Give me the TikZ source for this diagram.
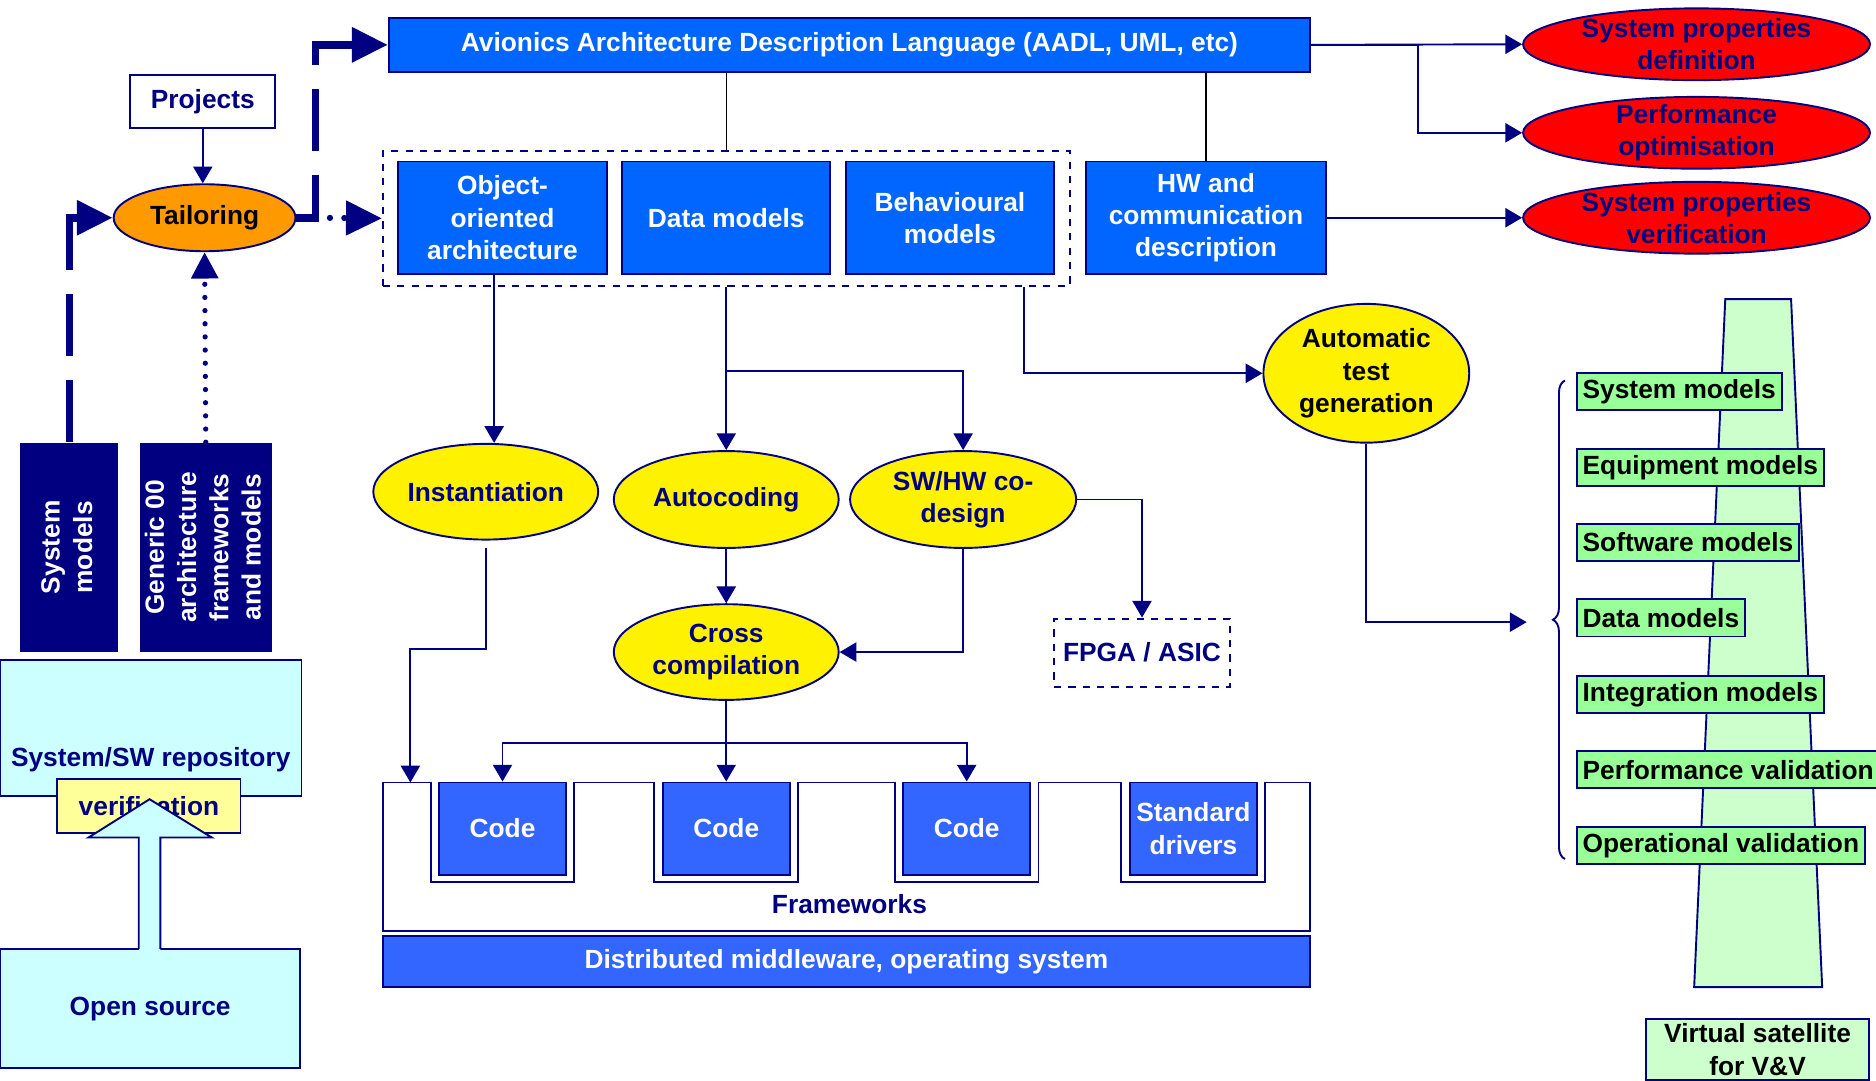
\documentclass[tikz,border=0pt]{standalone}
\usepackage{fontspec}
\setmainfont{Liberation Sans}
\usetikzlibrary{arrows, arrows.meta, positioning, shapes.geometric, decorations.pathreplacing}

\definecolor{navy}{HTML}{000080}
\definecolor{topblue}{HTML}{0066FF}
\definecolor{codeblue}{HTML}{3366FF}
\definecolor{tailorange}{HTML}{FF9900}
\definecolor{lightcyan}{HTML}{CCFFFF}
\definecolor{paleyellow}{HTML}{FFFF99}
\definecolor{midgreen}{HTML}{99FF99}
\definecolor{palegreen}{HTML}{CCFFCC}

\begin{document}
\begin{tikzpicture}[x=0.5pt, y=-0.5pt,
        every node/.style={font=\fontsize{11}{13.5}\selectfont\bfseries, align=center},
        topbox/.style={rectangle, draw=navy, fill=topblue, text=white, inner sep=0pt, line width=0.8pt},
        codebox/.style={rectangle, draw=navy, fill=codeblue, text=white, inner sep=0pt, line width=0.8pt, minimum width=53pt, minimum height=38.5pt},
        darkbox/.style={rectangle, fill=navy, text=white, inner sep=0pt},
        cyanbox/.style={rectangle, draw=navy, fill=lightcyan, text=navy, inner sep=0pt, line width=0.8pt},
        yelloval/.style={ellipse, draw=navy, fill=yellow, text=navy, inner sep=0pt, line width=0.8pt},
        redoval/.style={ellipse, draw=navy, fill=red, text=navy, inner xsep=0pt, inner ysep=-4pt, line width=0.8pt, minimum width=145pt, minimum height=30pt},
        greenbox/.style={rectangle, draw=navy, fill=midgreen, anchor=west, minimum height=15.5pt, inner xsep=2.5pt, inner ysep=0pt, line width=0.8pt},
        flow/.style={draw=navy, line width=0.8pt, -{Triangle[length=7pt, width=8pt]}},
        thinline/.style={draw=black, line width=0.6pt},
        thickdash/.style={draw=navy, line width=3.2pt, dash pattern=on 26pt off 10pt, -{Triangle[length=15pt, width=14pt]}},
        bigdots/.style={draw=navy, line width=2.6pt, line cap=round, dash pattern=on 0pt off 6pt, -{Triangle[length=15pt, width=14pt]}},
        smalldots/.style={draw=navy, line width=2.2pt, line cap=round, dash pattern=on 0pt off 5.5pt, -{Triangle[length=11pt, width=11pt]}}
    ]
    \useasboundingbox (0,0) rectangle (1568,903);

    % top language and tailoring
    \node[topbox, minimum width=385pt, minimum height=22.5pt] (aadl) at (710,37.5) {Avionics Architecture Description Language (AADL, UML, etc)};
    \node[rectangle, draw=navy, fill=white, text=navy, line width=0.8pt, minimum width=60.5pt, minimum height=22pt] (projects) at (169.5,85) {Projects};
    \node[ellipse, draw=navy, fill=tailorange, line width=0.8pt, inner sep=0pt, minimum width=76pt, minimum height=28pt] (tailor) at (171,182) {Tailoring};

    % left column
    \node[darkbox, minimum width=41pt, minimum height=87.5pt] (sysmod) at (58,457.5) {\rotatebox{90}{\begin{tabular}{@{}c@{}}System\\models\end{tabular}}};
    \node[darkbox, minimum width=55pt, minimum height=87.5pt] (generic) at (172,457.5) {\rotatebox{90}{\begin{tabular}{@{}c@{}}Generic 00\\architecture\\frameworks\\and models\end{tabular}}};
    \node[cyanbox, minimum width=126pt, minimum height=56.5pt] (repo) at (126,608.5) {};
    \node[text=navy] (repotext) at (126,635) {System/SW repository};
    \node[rectangle, draw=navy, fill=paleyellow, text=navy, line width=0.8pt, inner sep=0pt, minimum width=76.5pt, minimum height=22.5pt] (verif) at (124.5,673.5) {verification};
    \node[cyanbox, minimum width=125.5pt, minimum height=50pt] (opensrc) at (125.5,843) {Open source};
    \fill[lightcyan] (116,796) -- (116,700) -- (74,700) -- (125,668) -- (177,700) -- (134,700) -- (134,796) -- cycle;
    \draw[navy, line width=0.8pt] (116,793) -- (116,700) -- (74,700) -- (125,668) -- (177,700) -- (134,700) -- (134,793);

    % model boxes
    \node[rectangle, draw=navy, dashed, line width=0.8pt, minimum width=287pt, minimum height=56.5pt] (group) at (607,182.5) {};
    \node[topbox, minimum width=87pt, minimum height=47pt] (oo) at (420,182) {Object-\\oriented\\architecture};
    \node[topbox, minimum width=87pt, minimum height=47pt] (datam) at (607,182) {Data models};
    \node[topbox, minimum width=87pt, minimum height=47pt] (behav) at (794,182) {Behavioural\\models};
    \node[topbox, minimum width=100pt, minimum height=47pt] (hwcomm) at (1008,182) {HW and\\communication\\description};

    % properties
    \node[redoval] (spdef) at (1418,37) {System properties\\definition};
    \node[redoval] (perf) at (1418,111) {Performance\\optimisation};
    \node[redoval] (spver) at (1418,182) {System properties\\verification};

    % processes
    \node[yelloval, minimum width=94pt, minimum height=40pt] (inst) at (406,411) {Instantiation};
    \node[yelloval, minimum width=94pt, minimum height=40.5pt] (autocod) at (607,417.5) {Autocoding};
    \node[yelloval, minimum width=94.5pt, minimum height=40.5pt] (codesign) at (805,417.5) {SW/HW co-\\design};
    \node[yelloval, minimum width=94pt, minimum height=40pt] (cross) at (607,545) {Cross\\compilation};
    \node[yelloval, text=black, minimum width=86pt, minimum height=58pt] (autotest) at (1142,312) {Automatic\\test\\generation};
    \node[rectangle, draw=navy, dashed, text=navy, line width=0.8pt, minimum width=73.5pt, minimum height=28.5pt] (fpga) at (954.5,545.5) {FPGA / ASIC};

    % frameworks and code
    \draw[navy, line width=0.8pt, fill=white] (320,654) -- (360,654) -- (360,737) -- (480,737) -- (480,654)
        -- (547,654) -- (547,737) -- (667,737) -- (667,654) -- (748,654) -- (748,737) -- (868,737) -- (868,654)
        -- (937,654) -- (937,737) -- (1057,737) -- (1057,654) -- (1095,654) -- (1095,778) -- (320,778) -- cycle;
    \node[text=navy] (fwtext) at (710,756) {Frameworks};
    \node[codebox] (code1) at (420,692.5) {Code};
    \node[codebox] (code2) at (607,692.5) {Code};
    \node[codebox] (code3) at (808,692.5) {Code};
    \node[codebox] (stddrv) at (997.5,692.5) {Standard\\drivers};
    \node[codebox, minimum width=387.5pt, minimum height=21.5pt] (mware) at (707.5,803.5) {Distributed middleware, operating system};

    % virtual satellite
    \draw[navy, line width=0.8pt, fill=palegreen] (1442,250) -- (1497,250) -- (1523,825) -- (1416,825) -- cycle;
    \draw[navy, line width=0.8pt, decorate, decoration={brace, amplitude=5pt}] (1308,718) -- (1308,318);
    \node[greenbox] (vsys) at (1317,327.5) {System models};
    \node[greenbox] (vequip) at (1317,390.5) {Equipment models};
    \node[greenbox] (vsoft) at (1317,453.5) {Software models};
    \node[greenbox] (vdata) at (1317,516.5) {Data models};
    \node[greenbox] (vinteg) at (1317,580.5) {Integration models};
    \node[greenbox] (vperf) at (1317,643.5) {Performance validation};
    \node[greenbox] (voper) at (1317,706.5) {Operational validation};
    \node[rectangle, draw=navy, fill=palegreen, line width=0.8pt, anchor=north, minimum width=93pt, inner sep=2pt] (virtual) at (1469,851) {Virtual satellite\\for V\&V};

    \coordinate (gtap) at ([xshift=-19.5pt]group.south east);
    \coordinate (fwin) at (343,654);
    \coordinate (bracetip) at (1276,520);

    % tailoring links
    \draw[thickdash] (sysmod.north) |- (tailor.west);
    \draw[smalldots] (generic.north) -- (tailor.south);
    \draw[flow] (projects.south) -- (projects.south |- tailor.north);
    \draw[thickdash] (tailor.east) -- ++(16,0) |- (aadl.west);
    \draw[bigdots] ([xshift=8pt]tailor.east) -- (group.west);

    % links from the language
    \draw[thinline] (aadl.south -| group.north) -- (group.north);
    \draw[thinline] (aadl.south -| hwcomm.north) -- (hwcomm.north);
    \draw[flow] (aadl.east) -- (spdef.west);
    \draw[flow] (aadl.east) -- ++(89,0) |- (perf.west);
    \draw[flow] (hwcomm.east) -- (spver.west);

    % links from the models
    \draw[flow] ([xshift=-3.5pt]oo.south) -- ([xshift=3.5pt]inst.north);
    \draw[flow] (group.south) -- (autocod.north);
    \draw[flow] (group.south) -- ++(0,70) -| (codesign.north);
    \draw[flow] (gtap) |- (autotest.west);
    \draw[flow] (autocod.south) -- (cross.north);
    \draw[flow] (codesign.south) |- (cross.east);
    \draw[flow] (codesign.east) -| (fpga.north);
    \draw[flow] ([yshift=-3pt]inst.south) -- ++(0,85) -| (fwin);
    \draw[flow] (cross.south) -- (code2.north);
    \draw[flow] (cross.south) -- ++(0,35) -| (code1.north);
    \draw[flow] (cross.south) -- ++(0,35) -| (code3.north);
    \draw[flow] (autotest.south) |- (bracetip);
\end{tikzpicture}
\end{document}
